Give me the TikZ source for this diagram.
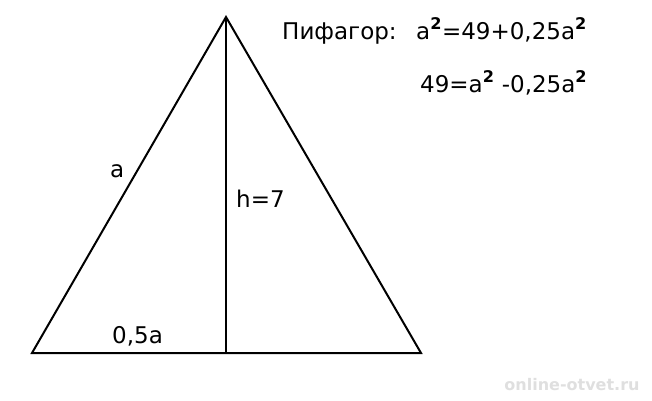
\documentclass[tikz,border=0pt]{standalone}
\usepackage{fontspec}
\setmainfont{DejaVu Sans}
\usetikzlibrary{positioning}

\tikzset{lbl/.style={inner sep=0pt, anchor=base west, font=\fontsize{23}{27}\selectfont},
  side/.style={line width=2pt, line join=miter}}
\newcommand{\sqr}{\textsuperscript{\textbf{2}}}

\begin{document}
\begin{tikzpicture}[x=1pt,y=-1pt]
\useasboundingbox (0,0) rectangle (652,400);
% triangle
\coordinate (A) at (226,17);
\coordinate (B) at (32,353);
\coordinate (C) at (421,353);
\coordinate (H) at (226,353);
\draw[side] (B) -- (A) -- (C) -- cycle;
\draw[side] (A) -- (H);

\node[lbl] (ta) at (110,177) {a};
\node[lbl] (th) at (236,207) {h=7};
\node[lbl] (tb) at (112,343) {0,5a};

% Pythagoras
\node[lbl] (p1) at (282,39) {Пифагор:};
\node[lbl] (e1) at (416,39) {a\sqr=49+0,25a\sqr};
\node[lbl] (e2) at (420,92) {49=a\sqr\ -0,25a\sqr};

\node[font=\bfseries\fontsize{16}{18}\selectfont, text=gray!25] (wm) at (572,385) {online-otvet.ru};
\end{tikzpicture}
\end{document}
